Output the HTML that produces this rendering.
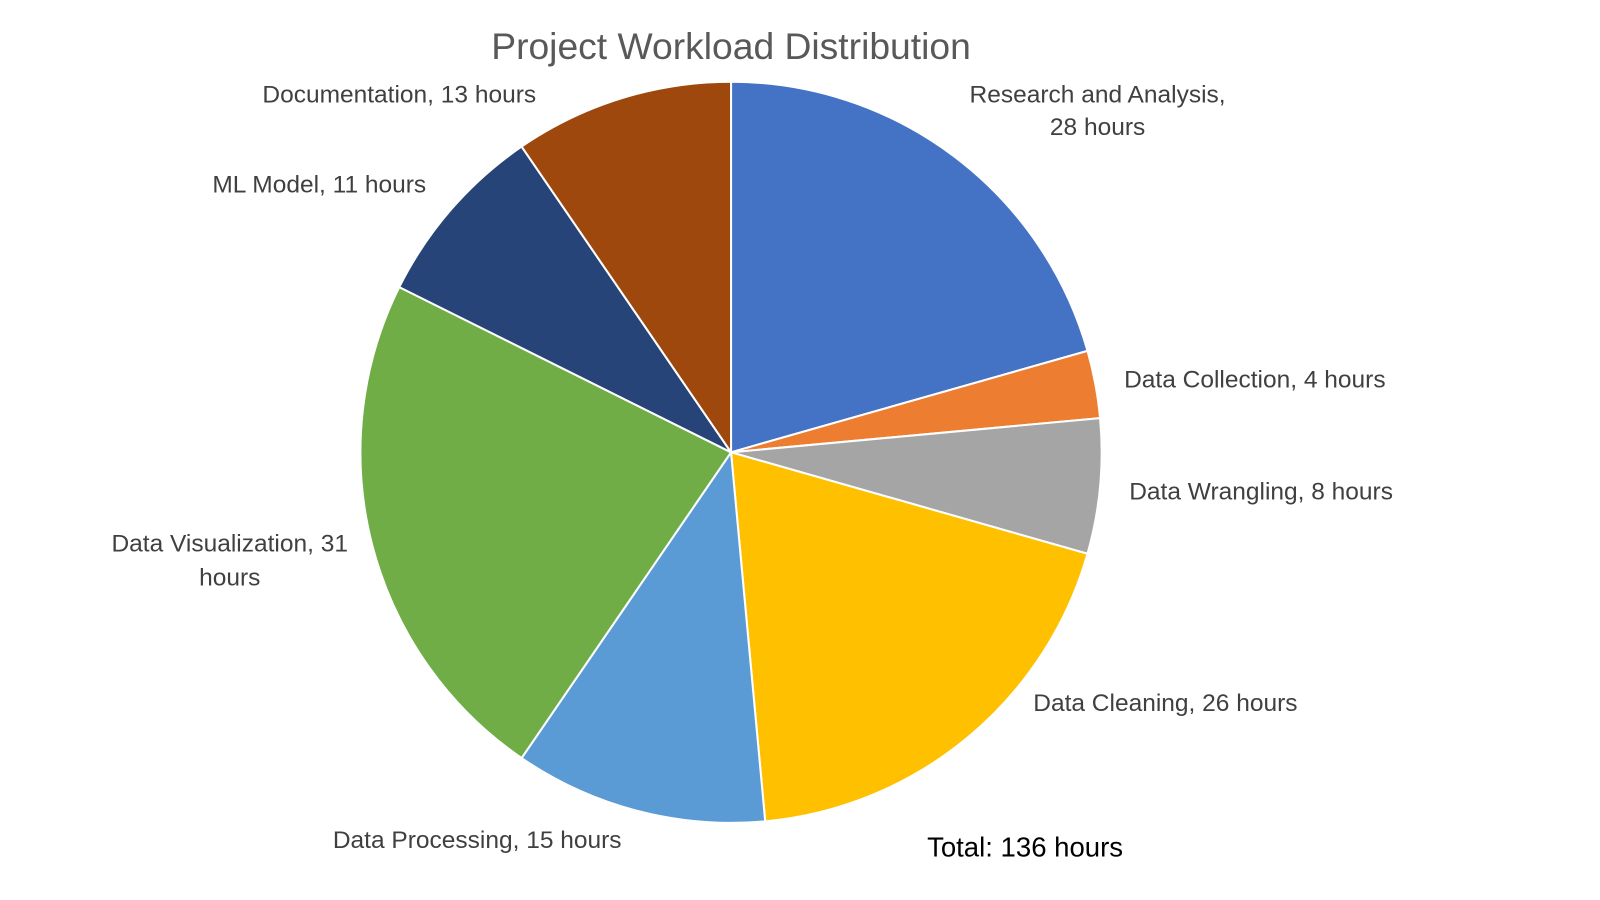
<!DOCTYPE html>
<html>
<head>
<meta charset="utf-8">
<style>
  html,body{margin:0;padding:0;background:#fff;}
  svg{display:block;font-family:"Liberation Sans",Arial,sans-serif;}
</style>
</head>
<body>
<svg id="chart" width="1600" height="900" viewBox="0 0 1600 900">
 <g transform="scale(1.021)">
  <text x="716" y="58" text-anchor="middle" font-size="36.5" fill="#595959">Project Workload Distribution</text>
  <g id="slices"></g>
  <g id="labels"></g>
  <text x="908" y="839" font-size="27" fill="#000">Total: 136 hours</text>
 </g>
</svg>
<script>
const categories = ["Research and Analysis","Data Collection","Data Wrangling","Data Cleaning","Data Processing","Data Visualization","ML Model","Documentation"];
const values = [28,4,8,26,15,31,11,13];
const colors = ["#4472C4","#ED7D31","#A5A5A5","#FFC000","#5B9BD5","#70AD47","#264478","#9E480E"];

const cx = 716, cy = 443, r = 363;
const NS = "http://www.w3.org/2000/svg";
const total = values.reduce((a,b)=>a+b,0);
const slicesG = document.getElementById('slices');
const labelsG = document.getElementById('labels');

function pt(a){ return [cx + r*Math.sin(a), cy - r*Math.cos(a)]; }

let acc = 0;
values.forEach((v,i)=>{
  const a0 = acc/total*2*Math.PI;
  acc += v;
  const a1 = acc/total*2*Math.PI;
  const [x0,y0] = pt(a0), [x1,y1] = pt(a1);
  const large = (a1-a0) > Math.PI ? 1 : 0;
  const p = document.createElementNS(NS,'path');
  p.setAttribute('d',`M${cx},${cy} L${x0},${y0} A${r},${r} 0 ${large} 1 ${x1},${y1} Z`);
  p.setAttribute('fill',colors[i]);
  p.setAttribute('stroke','#fff');
  p.setAttribute('stroke-width','2');
  p.setAttribute('stroke-linejoin','round');
  
  
  slicesG.appendChild(p);
});

const labelLayout = [
  {x:1075, lines:[93,125], anchor:"middle", split:true},
  {x:1101, lines:[372], anchor:"start"},
  {x:1106, lines:[482], anchor:"start"},
  {x:1012, lines:[689], anchor:"start"},
  {x:326,  lines:[823], anchor:"start"},
  {x:225,  lines:[533,566], anchor:"middle", split:true, splitHours:true},
  {x:208,  lines:[181], anchor:"start"},
  {x:257,  lines:[93], anchor:"start"}
];
categories.forEach((c,i)=>{
  const L = labelLayout[i];
  let texts;
  if (L.splitHours) texts = [c + ", " + values[i], "hours"];
  else if (L.split) texts = [c + ",", values[i] + " hours"];
  else texts = [c + ", " + values[i] + " hours"];
  texts.forEach((t,j)=>{
    const tx = document.createElementNS(NS,'text');
    tx.setAttribute('x', L.x);
    tx.setAttribute('y', L.lines[j]);
    tx.setAttribute('text-anchor', L.anchor);
    tx.setAttribute('dominant-baseline','central');
    tx.setAttribute('font-size','24');
    tx.setAttribute('fill','#404040');
    tx.textContent = t;
    
    
    labelsG.appendChild(tx);
  });
});
</script>
</body>
</html>
